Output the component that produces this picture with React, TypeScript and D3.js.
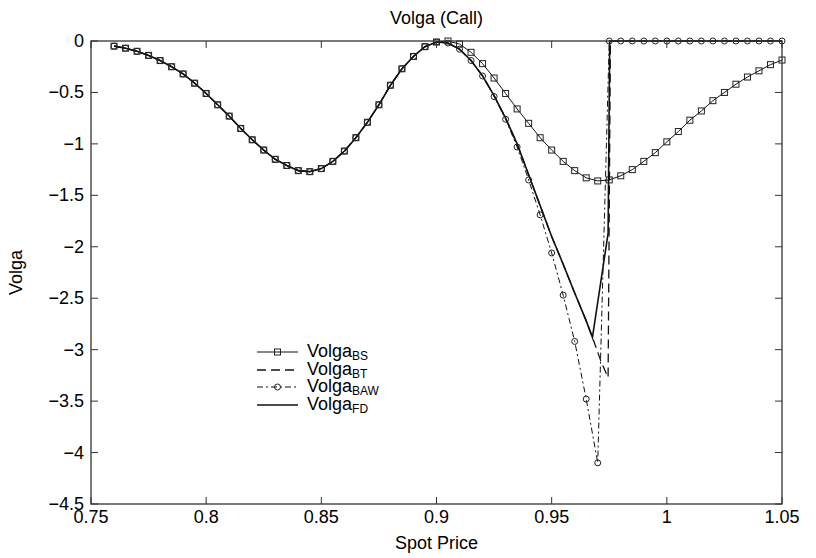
import React from "react";
import * as d3 from "d3";

const spot = [0.76,0.765,0.77,0.775,0.78,0.785,0.79,0.795,0.8,0.805,0.81,0.815,0.82,0.825,0.83,0.835,0.84,0.845,0.85,0.855,0.86,0.865,0.87,0.875,0.88,0.885,0.89,0.895,0.9,0.905,0.91,0.915,0.92,0.925,0.93,0.935,0.94,0.945,0.95,0.955,0.96,0.965,0.97,0.975,0.98,0.985,0.99,0.995,1.0,1.005,1.01,1.015,1.02,1.025,1.03,1.035,1.04,1.045,1.05];

const volgaBS = [-0.05,-0.07,-0.10,-0.14,-0.19,-0.25,-0.32,-0.41,-0.51,-0.62,-0.73,-0.85,-0.96,-1.06,-1.15,-1.21,-1.26,-1.27,-1.24,-1.17,-1.07,-0.94,-0.79,-0.62,-0.43,-0.27,-0.15,-0.055,-0.01,0.0,-0.03,-0.11,-0.22,-0.36,-0.51,-0.66,-0.80,-0.94,-1.06,-1.17,-1.26,-1.33,-1.36,-1.35,-1.31,-1.25,-1.17,-1.085,-0.98,-0.88,-0.77,-0.68,-0.58,-0.50,-0.42,-0.35,-0.29,-0.23,-0.185];

const volgaBAW = [-0.05,-0.07,-0.10,-0.14,-0.19,-0.25,-0.32,-0.41,-0.51,-0.62,-0.73,-0.85,-0.96,-1.06,-1.15,-1.21,-1.26,-1.27,-1.24,-1.17,-1.07,-0.94,-0.79,-0.62,-0.43,-0.27,-0.15,-0.055,-0.01,-0.02,-0.08,-0.19,-0.34,-0.54,-0.76,-1.03,-1.35,-1.69,-2.06,-2.47,-2.92,-3.48,-4.10,0,0,0,0,0,0,0,0,0,0,0,0,0,0,0,0];

const spotFD = [0.76,0.765,0.77,0.775,0.78,0.785,0.79,0.795,0.8,0.805,0.81,0.815,0.82,0.825,0.83,0.835,0.84,0.845,0.85,0.855,0.86,0.865,0.87,0.875,0.88,0.885,0.89,0.895,0.9,0.905,0.91,0.915,0.92,0.925,0.93,0.935,0.94,0.945,0.95,0.955,0.96,0.965,0.9677,0.9745,0.9752,0.98,1.0,1.05];
const volgaFD = [-0.05,-0.07,-0.10,-0.14,-0.19,-0.25,-0.32,-0.41,-0.51,-0.62,-0.73,-0.85,-0.96,-1.06,-1.15,-1.21,-1.26,-1.27,-1.24,-1.17,-1.07,-0.94,-0.79,-0.62,-0.43,-0.27,-0.15,-0.055,-0.01,-0.02,-0.08,-0.19,-0.34,-0.53,-0.75,-1.0,-1.3,-1.6,-1.9,-2.17,-2.45,-2.72,-2.88,-1.87,0,0,0,0];

const spotBT = [0.76,0.765,0.77,0.775,0.78,0.785,0.79,0.795,0.8,0.805,0.81,0.815,0.82,0.825,0.83,0.835,0.84,0.845,0.85,0.855,0.86,0.865,0.87,0.875,0.88,0.885,0.89,0.895,0.9,0.905,0.91,0.915,0.92,0.925,0.93,0.935,0.94,0.945,0.95,0.955,0.96,0.965,0.9685,0.9715,0.9745,0.9755,0.98,1.0,1.05];
const volgaBT = [-0.05,-0.07,-0.10,-0.14,-0.19,-0.25,-0.32,-0.41,-0.51,-0.62,-0.73,-0.85,-0.96,-1.06,-1.15,-1.21,-1.26,-1.27,-1.24,-1.17,-1.07,-0.94,-0.79,-0.62,-0.43,-0.27,-0.15,-0.055,-0.01,-0.02,-0.08,-0.19,-0.34,-0.53,-0.75,-1.0,-1.3,-1.6,-1.9,-2.17,-2.45,-2.72,-2.93,-3.12,-3.27,0,0,0,0];

const xTicks = [0.75,0.8,0.85,0.9,0.95,1.0,1.05];
const xTickLabels = ["0.75","0.8","0.85","0.9","0.95","1","1.05"];
const yTicks = [0,-0.5,-1,-1.5,-2,-2.5,-3,-3.5,-4,-4.5];
const yTickLabels = ["0","\u22120.5","\u22121","\u22121.5","\u22122","\u22122.5","\u22123","\u22123.5","\u22124","\u22124.5"];
const legendNames = ["BS","BT","BAW","FD"];

const W = 816, H = 558;
const L = 91, R = 782, T = 41, B = 504;
const FONT = "'Liberation Sans', Arial, Helvetica, sans-serif";

export default function App() {
  const x = d3.scaleLinear().domain([0.75, 1.05]).range([L, R]);
  const y = d3.scaleLinear().domain([-4.5, 0]).range([B, T]);
  const line = d3.line<[number, number]>().x(d => x(d[0])).y(d => y(d[1]));
  const bs: [number, number][] = spot.map((s, i) => [s, volgaBS[i]]);
  const baw: [number, number][] = spot.map((s, i) => [s, volgaBAW[i]]);
  const fd: [number, number][] = spotFD.map((s, i) => [s, volgaFD[i]]);
  const bt: [number, number][] = spotBT.map((s, i) => [s, volgaBT[i]]);
  const tickLen = 7;
  const col = "#111";
  const legendX0 = 257, legendX1 = 298, legendY = [352, 370, 387, 405];
  const styles = [
    { w: 1, dash: undefined as string | undefined, marker: "sq" },
    { w: 1.3, dash: "9,5", marker: "" },
    { w: 1, dash: "6,3,2,3", marker: "ci" },
    { w: 1.6, dash: undefined as string | undefined, marker: "" },
  ];
  return (
    <svg width={W} height={H} style={{ position: "absolute", left: 0, top: 0, background: "#fff" }} fontFamily={FONT}>
      <rect x={0} y={0} width={W} height={H} fill="#fff" />
      <path d={line(bs) || ""} fill="none" stroke={col} strokeWidth={1} />
      <path d={line(baw) || ""} fill="none" stroke={col} strokeWidth={1} strokeDasharray="6,3,2,3" />
      <path d={line(bt) || ""} fill="none" stroke={col} strokeWidth={1.3} strokeDasharray="9,5" />
      <path d={line(fd) || ""} fill="none" stroke={col} strokeWidth={1.6} />
      {bs.map((d, i) => (
        <rect key={"s" + i} x={x(d[0]) - 3} y={y(d[1]) - 3} width={6} height={6} fill="none" stroke="#222" strokeWidth={1} />
      ))}
      {baw.map((d, i) => (
        <circle key={"c" + i} cx={x(d[0])} cy={y(d[1])} r={3} fill="none" stroke="#222" strokeWidth={1} />
      ))}
      <rect x={L} y={T} width={R - L} height={B - T} fill="none" stroke="#333" strokeWidth={1.3} />
      {xTicks.map((t, i) => (
        <g key={"xt" + i}>
          <line x1={x(t)} x2={x(t)} y1={B} y2={B - tickLen} stroke="#333" />
          <line x1={x(t)} x2={x(t)} y1={T} y2={T + tickLen} stroke="#333" />
          <text x={x(t)} y={B + 19} fontSize={18} textAnchor="middle">{xTickLabels[i]}</text>
        </g>
      ))}
      {yTicks.map((t, i) => (
        <g key={"yt" + i}>
          <line x1={L} x2={L + tickLen} y1={y(t)} y2={y(t)} stroke="#333" />
          <line x1={R} x2={R - tickLen} y1={y(t)} y2={y(t)} stroke="#333" />
          <text x={L - 7} y={y(t) + 6} fontSize={18} textAnchor="end">{yTickLabels[i]}</text>
        </g>
      ))}
      <text x={(L + R) / 2} y={24} fontSize={18} textAnchor="middle">Volga (Call)</text>
      <text x={(L + R) / 2} y={549} fontSize={18} textAnchor="middle">Spot Price</text>
      <text transform={`translate(22,${(T + B) / 2}) rotate(-90)`} fontSize={18} textAnchor="middle">Volga</text>
      {legendNames.map((n, i) => {
        const st = styles[i];
        const ly = legendY[i];
        const cx = (legendX0 + legendX1) / 2;
        return (
          <g key={"lg" + i}>
            <line x1={legendX0} x2={legendX1} y1={ly} y2={ly} stroke={col} strokeWidth={st.w} strokeDasharray={st.dash} />
            {st.marker === "sq" && <rect x={cx - 3} y={ly - 3} width={6} height={6} fill="none" stroke="#222" />}
            {st.marker === "ci" && <circle cx={cx} cy={ly} r={3} fill="none" stroke="#222" />}
            <text x={legendX1 + 9} y={ly + 5} fontSize={18}>
              Volga<tspan fontSize={12} dy={3}>{n}</tspan>
            </text>
          </g>
        );
      })}
    </svg>
  );
}
